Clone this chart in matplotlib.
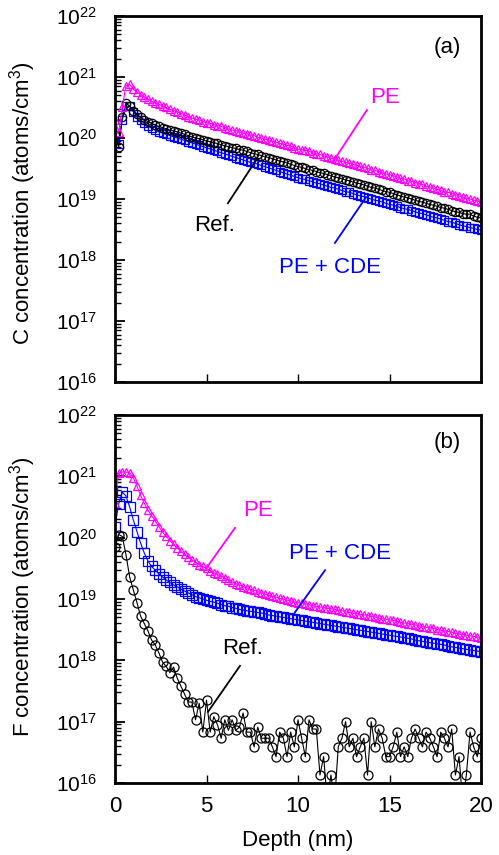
import numpy as np
import matplotlib
matplotlib.use('Agg')
import matplotlib.pyplot as plt
from matplotlib.ticker import FixedLocator, NullFormatter, NullLocator, LogFormatterSciNotation

plt.rcParams['font.family'] = ['Liberation Sans', 'DejaVu Sans']
plt.rcParams['mathtext.fontset'] = 'custom'
plt.rcParams['mathtext.rm'] = 'Liberation Sans'
plt.rcParams['mathtext.it'] = 'Liberation Sans:italic'
plt.rcParams['mathtext.bf'] = 'Liberation Sans:bold'

# ---- data (depth in nm, concentrations as log10 of atoms/cm^3) ----
depth = np.round(np.arange(101) * 0.2, 1)

c_pe_log = [20.30, 20.10, 20.50, 20.86, 20.88, 20.80, 20.75, 20.71, 20.67, 20.64,
            20.60, 20.58, 20.55, 20.53, 20.50, 20.47, 20.45, 20.43, 20.40, 20.38,
            20.35, 20.33, 20.31, 20.30, 20.27, 20.25, 20.24, 20.22, 20.20, 20.19,
            20.17, 20.15, 20.13, 20.12, 20.10, 20.08, 20.07, 20.05, 20.04, 20.01,
            20.00, 19.98, 19.97, 19.95, 19.93, 19.91, 19.90, 19.88, 19.87, 19.84,
            19.82, 19.81, 19.80, 19.78, 19.76, 19.74, 19.73, 19.71, 19.69, 19.67,
            19.66, 19.64, 19.62, 19.60, 19.59, 19.57, 19.55, 19.54, 19.52, 19.50,
            19.48, 19.47, 19.45, 19.43, 19.41, 19.40, 19.38, 19.36, 19.34, 19.33,
            19.30, 19.29, 19.27, 19.25, 19.24, 19.21, 19.20, 19.18, 19.16, 19.14,
            19.12, 19.11, 19.09, 19.07, 19.05, 19.03, 19.02, 19.00, 18.98, 18.97,
            18.95]

c_ref_log = [20.05, 19.85, 20.35, 20.58, 20.52, 20.45, 20.39, 20.34, 20.30, 20.27,
             20.24, 20.21, 20.19, 20.17, 20.15, 20.13, 20.12, 20.10, 20.08, 20.06,
             20.04, 20.02, 20.00, 19.99, 19.97, 19.95, 19.94, 19.92, 19.91, 19.89,
             19.87, 19.86, 19.84, 19.83, 19.81, 19.80, 19.78, 19.76, 19.74, 19.73,
             19.71, 19.69, 19.68, 19.66, 19.64, 19.62, 19.61, 19.59, 19.57, 19.55,
             19.53, 19.52, 19.50, 19.48, 19.47, 19.45, 19.43, 19.42, 19.40, 19.38,
             19.36, 19.35, 19.33, 19.31, 19.30, 19.28, 19.26, 19.25, 19.23, 19.21,
             19.19, 19.18, 19.16, 19.14, 19.12, 19.11, 19.09, 19.07, 19.05, 19.03,
             19.02, 19.00, 18.98, 18.96, 18.95, 18.93, 18.91, 18.90, 18.88, 18.86,
             18.85, 18.83, 18.81, 18.79, 18.78, 18.76, 18.75, 18.75, 18.72, 18.70,
             18.69]

c_pecde_log = [20.05, 19.90, 20.30, 20.52, 20.52, 20.43, 20.35, 20.29, 20.24, 20.20,
               20.16, 20.13, 20.10, 20.08, 20.06, 20.04, 20.02, 20.00, 19.98, 19.96,
               19.94, 19.92, 19.90, 19.88, 19.86, 19.84, 19.82, 19.80, 19.78, 19.76,
               19.74, 19.72, 19.70, 19.68, 19.66, 19.64, 19.62, 19.60, 19.59, 19.57,
               19.55, 19.53, 19.51, 19.49, 19.47, 19.45, 19.43, 19.41, 19.39, 19.37,
               19.35, 19.33, 19.32, 19.30, 19.28, 19.26, 19.25, 19.23, 19.21, 19.19,
               19.18, 19.16, 19.14, 19.12, 19.11, 19.09, 19.07, 19.05, 19.04, 19.02,
               19.00, 18.98, 18.97, 18.95, 18.93, 18.91, 18.90, 18.88, 18.86, 18.84,
               18.83, 18.81, 18.79, 18.77, 18.76, 18.74, 18.72, 18.70, 18.69, 18.67,
               18.65, 18.63, 18.62, 18.60, 18.58, 18.56, 18.55, 18.53, 18.52, 18.50,
               18.49]

f_pe_log = [20.57, 21.06, 21.07, 21.07, 21.06, 20.98, 20.84, 20.69, 20.56, 20.45,
            20.36, 20.27, 20.18, 20.09, 20.02, 19.95, 19.89, 19.83, 19.78, 19.73,
            19.68, 19.64, 19.60, 19.56, 19.53, 19.50, 19.46, 19.43, 19.40, 19.37,
            19.34, 19.31, 19.28, 19.25, 19.23, 19.20, 19.18, 19.16, 19.14, 19.12,
            19.10, 19.08, 19.06, 19.05, 19.03, 19.01, 19.00, 18.98, 18.97, 18.95,
            18.94, 18.93, 18.92, 18.91, 18.89, 18.88, 18.87, 18.86, 18.85, 18.84,
            18.83, 18.82, 18.81, 18.79, 18.78, 18.77, 18.76, 18.75, 18.74, 18.73,
            18.72, 18.71, 18.69, 18.68, 18.67, 18.66, 18.65, 18.64, 18.62, 18.61,
            18.60, 18.59, 18.58, 18.56, 18.55, 18.54, 18.53, 18.52, 18.50, 18.49,
            18.48, 18.47, 18.46, 18.44, 18.43, 18.42, 18.41, 18.40, 18.39, 18.38,
            18.37]

f_pecde_log = [20.18, 20.55, 20.74, 20.68, 20.50, 20.29, 20.10, 19.91, 19.75, 19.62,
               19.53, 19.47, 19.41, 19.36, 19.31, 19.27, 19.23, 19.20, 19.16, 19.13,
               19.10, 19.07, 19.04, 19.02, 19.00, 18.98, 18.96, 18.95, 18.93, 18.91,
               18.89, 18.88, 18.86, 18.85, 18.83, 18.82, 18.81, 18.80, 18.79, 18.78,
               18.77, 18.76, 18.74, 18.73, 18.72, 18.71, 18.70, 18.69, 18.68, 18.67,
               18.66, 18.65, 18.64, 18.63, 18.62, 18.61, 18.60, 18.59, 18.58, 18.57,
               18.56, 18.55, 18.54, 18.53, 18.52, 18.51, 18.50, 18.49, 18.48, 18.47,
               18.46, 18.45, 18.44, 18.43, 18.42, 18.41, 18.40, 18.39, 18.38, 18.37,
               18.36, 18.35, 18.33, 18.32, 18.31, 18.30, 18.29, 18.28, 18.27, 18.26,
               18.25, 18.23, 18.22, 18.21, 18.20, 18.19, 18.18, 18.17, 18.16, 18.15,
               18.14]

f_ref_log = [19.85, 20.05, 20.02, 19.72, 19.36, 19.15, 18.94, 18.72, 18.60, 18.48,
             18.33, 18.25, 18.12, 17.97, 17.90, 17.80, 17.89, 17.71, 17.58, 17.45,
             17.32, 17.32, 17.03, 17.30, 16.83, 17.35, 16.83, 17.08, 16.95, 16.73,
             17.03, 16.86, 17.03, 16.86, 16.91, 17.14, 16.83, 16.83, 16.59, 16.91,
             16.73, 16.73, 16.73, 16.59, 16.43, 16.83, 16.73, 16.43, 16.83, 16.59,
             17.03, 16.73, 16.43, 17.03, 16.88, 16.88, 16.13, 16.43, 15.70, 16.13,
             15.70, 16.59, 16.73, 17.00, 16.59, 16.73, 16.43, 16.59, 16.73, 16.13,
             17.00, 16.59, 16.88, 16.73, 16.43, 16.43, 16.59, 16.83, 16.43, 16.59,
             16.43, 16.73, 16.88, 16.73, 16.59, 16.83, 16.73, 16.59, 16.43, 16.83,
             16.73, 16.59, 16.88, 16.13, 16.43, 15.70, 16.13, 16.83, 16.59, 16.43,
             16.73]

x_ticks = [0, 5, 10, 15, 20]
x_ticklabels = ['0', '5', '10', '15', '20']
y_exponents = [16, 17, 18, 19, 20, 21, 22]

MAG = '#FF00FF'
BLU = '#0000FF'
FS = 16

fig = plt.figure(figsize=(4.99, 8.55), dpi=100)
axA = fig.add_axes([115/499, 1-382/855, 366/499, 366/855])
axB = fig.add_axes([115/499, 1-783/855, 366/499, 368/855])

y_major = [10.0 ** e for e in y_exponents]
y_minor = [m * 10.0 ** e for e in y_exponents[:-1] for m in range(2, 10)]


def style(ax, show_xlabels):
    ax.set_yscale('log')
    ax.set_xlim(0, 20)
    ax.set_ylim(1e16, 1e22)
    ax.xaxis.set_major_locator(FixedLocator(x_ticks))
    ax.xaxis.set_minor_locator(NullLocator())
    ax.set_xticklabels(x_ticklabels)
    ax.yaxis.set_major_locator(FixedLocator(y_major))
    ax.yaxis.set_major_formatter(LogFormatterSciNotation())
    ax.yaxis.set_minor_locator(FixedLocator(y_minor))
    ax.yaxis.set_minor_formatter(NullFormatter())
    ax.tick_params(axis='both', which='both', direction='in', top=False, right=False)
    ax.tick_params(axis='x', labelbottom=show_xlabels)
    ax.tick_params(axis='y', which='major', length=7, width=1.3, labelsize=15, pad=13)
    ax.tick_params(axis='y', which='minor', length=4, width=1.0)
    ax.tick_params(axis='x', which='major', length=6, width=1.0, labelsize=FS, pad=9)
    for s in ax.spines.values():
        s.set_linewidth(2.0)


def series(ax, ylog, marker, color, ms):
    ax.plot(depth, 10 ** np.array(ylog), color=color, lw=0.8, marker=marker,
            mfc='none', mec=color, mew=0.9, ms=ms)


style(axA, False)
style(axB, True)

series(axA, c_pecde_log, 's', BLU, 6)
series(axA, c_ref_log, 'o', 'black', 6)
series(axA, c_pe_log, '^', MAG, 6)

series(axB, f_pecde_log, 's', BLU, 6.5)
series(axB, f_ref_log, 'o', 'black', 6.5)
series(axB, f_pe_log, '^', MAG, 6)

# annotations panel (a)
axA.text(18.14, 10**21.49, '(a)', fontsize=FS, ha='center', va='center')
axA.text(14.75, 10**20.67, 'PE', fontsize=FS, color=MAG, ha='center', va='center')
axA.plot([13.77, 11.91], [10**20.46, 10**19.61], color=MAG, lw=1.3)
axA.text(5.46, 10**18.57, 'Ref.', fontsize=FS, color='black', ha='center', va='center')
axA.plot([6.17, 7.76], [10**18.93, 10**19.66], color='black', lw=1.3)
axA.text(11.75, 10**17.87, 'PE + CDE', fontsize=FS, color=BLU, ha='center', va='center')
axA.plot([12.02, 13.72], [10**18.28, 10**19.03], color=BLU, lw=1.3)

# annotations panel (b)
axB.text(18.14, 10**21.55, '(b)', fontsize=FS, ha='center', va='center')
axB.text(7.81, 10**20.45, 'PE', fontsize=FS, color=MAG, ha='center', va='center')
axB.plot([6.56, 5.03], [10**20.16, 10**19.52], color=MAG, lw=1.3)
axB.text(12.30, 10**19.75, 'PE + CDE', fontsize=FS, color=BLU, ha='center', va='center')
axB.plot([11.48, 9.73], [10**19.47, 10**18.74], color=BLU, lw=1.3)
axB.text(6.99, 10**18.20, 'Ref.', fontsize=FS, color='black', ha='center', va='center')
axB.plot([6.83, 5.08], [10**17.91, 10**17.16], color='black', lw=1.3)

fig.text(23/499, 1-203/855, 'C concentration (atoms/cm$^3$)', rotation=90,
         ha='center', va='center', fontsize=FS)
fig.text(23/499, 1-597/855, 'F concentration (atoms/cm$^3$)', rotation=90,
         ha='center', va='center', fontsize=FS)
fig.text(298/499, 1-840/855, 'Depth (nm)', ha='center', va='center', fontsize=FS)

fig.savefig('out.png', dpi=100)
